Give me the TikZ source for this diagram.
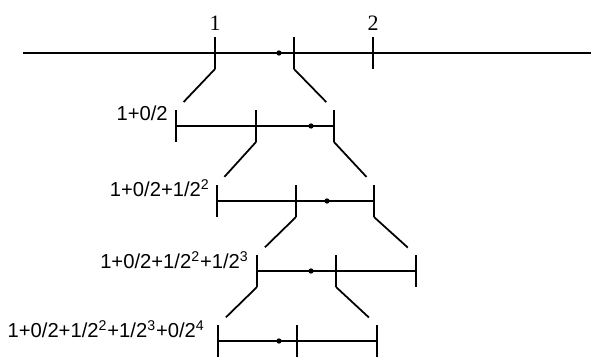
\documentclass[tikz,border=0pt]{standalone}
\usepackage{fontspec}
\setmainfont{Liberation Serif}
\setsansfont{Liberation Sans}
\tikzset{
  bar/.style={line width=1pt},
  dip/.style={line width=1pt, shorten >=0.22cm},
  dot/.style={circle, fill, inner sep=0pt, minimum size=3pt},
  num/.style={font=\fontsize{12.5}{14}\selectfont, inner sep=0pt},
  lab/.style={font=\sffamily\fontsize{11.5}{13}\selectfont, inner sep=0pt, anchor=east},
}
\newcommand{\tickat}[1]{\draw[bar] ([yshift=0.32cm]#1) -- ([yshift=-0.32cm]#1);}

\begin{document}
\begin{tikzpicture}[x=0.02cm, y=-0.02cm]
\useasboundingbox (0,0) rectangle (591,358);
% number line
\coordinate (S) at (23,53);
\coordinate (E) at (591,53);
\coordinate (A0) at (215,53);
\coordinate (M0) at (294,53);
\coordinate (B0) at (373,53);
\node[num] (one) at (215,23) {1};
\node[num] (two) at (373,23) {2};
\draw[bar] (S) -- (E);
\tickat{A0} \tickat{M0} \tickat{B0}
\node[dot] (x0) at (279,53) {};

% first halving
\coordinate (L1) at (176,126);
\coordinate (M1) at (256,126);
\coordinate (R1) at (334,126);
\node[lab] (t1) at (168,113) {1+0/2};
\draw[bar] (L1) -- (R1);
\tickat{L1} \tickat{M1} \tickat{R1}
\node[dot] (x1) at (311,126) {};
\draw[dip] ([yshift=-0.32cm]A0) -- ([yshift=0.32cm]L1);
\draw[dip] ([yshift=-0.32cm]M0) -- ([yshift=0.32cm]R1);

% second halving
\coordinate (L2) at (217,201);
\coordinate (M2) at (296,201);
\coordinate (R2) at (374,201);
\node[lab] (t2) at (210,188) {1+0/2+1/2\textsuperscript{2}};
\draw[bar] (L2) -- (R2);
\tickat{L2} \tickat{M2} \tickat{R2}
\node[dot] (x2) at (327,201) {};
\draw[dip] ([yshift=-0.32cm]M1) -- ([yshift=0.32cm]L2);
\draw[dip] ([yshift=-0.32cm]R1) -- ([yshift=0.32cm]R2);

% third halving
\coordinate (L3) at (257,271);
\coordinate (M3) at (336,271);
\coordinate (R3) at (416,271);
\node[lab] (t3) at (249,260) {1+0/2+1/2\textsuperscript{2}+1/2\textsuperscript{3}};
\draw[bar] (L3) -- (R3);
\tickat{L3} \tickat{M3} \tickat{R3}
\node[dot] (x3) at (311,271) {};
\draw[dip] ([yshift=-0.32cm]M2) -- ([yshift=0.32cm]L3);
\draw[dip] ([yshift=-0.32cm]R2) -- ([yshift=0.32cm]R3);

% fourth halving
\coordinate (L4) at (218,341);
\coordinate (M4) at (297,341);
\coordinate (R4) at (377,341);
\node[lab] (t4) at (205,329) {1+0/2+1/2\textsuperscript{2}+1/2\textsuperscript{3}+0/2\textsuperscript{4}};
\draw[bar] (L4) -- (R4);
\tickat{L4} \tickat{M4} \tickat{R4}
\node[dot] (x4) at (279,341) {};
\draw[dip] ([yshift=-0.32cm]L3) -- ([yshift=0.32cm]L4);
\draw[dip] ([yshift=-0.32cm]M3) -- ([yshift=0.32cm]R4);
\end{tikzpicture}
\end{document}
